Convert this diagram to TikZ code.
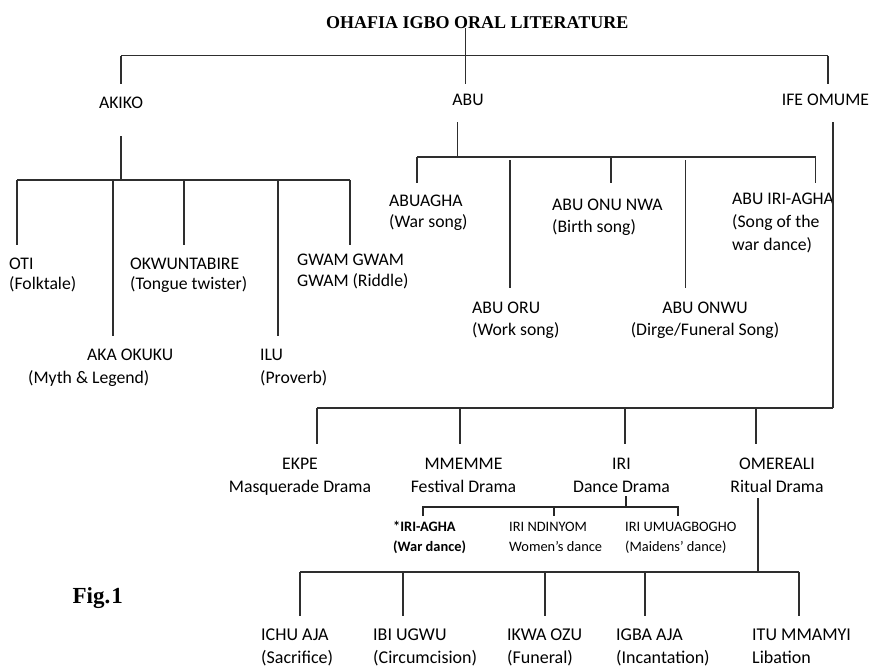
\documentclass[tikz,border=0pt]{standalone}
\usepackage{fontspec}
\setmainfont{Carlito}
\newfontfamily\serifbold{Liberation Serif}
\newcommand\mydrop[4]{\coordinate (#1a) at (#2,#3);\coordinate (#1b) at (#2,#4);\draw[lnk] (#1a) -- (#1b);}
\begin{document}
\begin{tikzpicture}[x=1pt,y=-1pt,
  lnk/.style={draw=black!82,line width=1.1pt},
  lnkb/.style={draw=black!85,line width=1.7pt},
  txt/.style={inner sep=0pt,font=\fontsize{17.7}{22}\selectfont,align=left,anchor=base west},
  btxt/.style={txt,font=\fontsize{18}{22}\selectfont},
  ctxt/.style={txt,align=center,anchor=base},
  small/.style={inner sep=0pt,font=\fontsize{14.4}{20}\selectfont,align=left,anchor=base west},
  ttl/.style={inner sep=0pt,font=\serifbold\bfseries\fontsize{18}{22}\selectfont,anchor=base west},
  fig/.style={inner sep=0pt,font=\serifbold\bfseries\fontsize{23}{28}\selectfont,anchor=base east}]
\useasboundingbox (0,0) rectangle (872,667);
% ---- text nodes (multi-line nodes are placed at the baseline of their last line) ----
\node[ttl] (title) at (326,28.3) {OHAFIA IGBO ORAL LITERATURE};
\node[ctxt] (akiko) at (121,108.3) {AKIKO};
\node[ctxt] (abu) at (468,105) {ABU};
\node[ctxt] (ife) at (825.5,105) {IFE OMUME};
% akiko children
\node[txt] (oti) at (9,289) {OTI\\[-2pt](Folktale)};
\node[txt] (okwu) at (130,289) {OKWUNTABIRE\\[-2pt](Tongue twister)};
\node[txt] (gwam) at (297,286) {GWAM GWAM\\[-1pt]GWAM (Riddle)};
\node[txt] (aka) at (28,383) {\hspace*{59pt}AKA OKUKU\\[1pt](Myth \& Legend)};
\node[txt] (ilu) at (260,383) {ILU\\[1pt](Proverb)};
% abu children
\node[txt] (abuagha) at (389,227) {ABUAGHA\\[-1pt](War song)};
\node[txt] (abuonu) at (552,232) {ABU ONU NWA\\(Birth song)};
\node[txt] (abuiri) at (732,250) {ABU IRI-AGHA\\[1pt](Song of the\\[1pt]war dance)};
\node[txt] (aburu) at (472,335) {ABU ORU\\(Work song)};
\node[ctxt] (abuonwu) at (705,335) {ABU ONWU\\(Dirge/Funeral Song)};
% drama
\node[ctxt] (ekpe) at (300,492) {EKPE\\[1pt]Masquerade Drama};
\node[ctxt] (mmemme) at (463.5,492) {MMEMME\\[1pt]Festival Drama};
\node[ctxt] (iri) at (621.5,492) {IRI\\[1pt]Dance Drama};
\node[ctxt] (omereali) at (777,492) {OMEREALI\\[1pt]Ritual Drama};
% iri sub
\node[small] (iriagha) at (393,551) {\textbf{*IRI-AGHA}\\\textbf{(War dance)}};
\node[small] (ndinyom) at (509,551) {IRI NDINYOM\\Women’s dance};
\node[small] (umuag) at (625,551) {IRI UMUAGBOGHO\\(Maidens’ dance)};
% ritual children
\node[btxt] (ichu) at (261,663) {ICHU AJA\\[1pt](Sacrifice)};
\node[btxt] (ibi) at (373,663) {IBI UGWU\\[1pt](Circumcision)};
\node[btxt] (ikwa) at (507,663) {IKWA OZU\\[1pt](Funeral)};
\node[btxt] (igba) at (616,663) {IGBA AJA\\[1pt](Incantation)};
\node[btxt] (itu) at (752,663) {ITU MMAMYI\\[1pt]Libation};
\node[fig] (fig) at (123,603) {Fig.\kern1pt1};
% ---- connectors ----
% root
\coordinate (rootbar) at (465.7,55.7);
\coordinate (rootend) at (465.7,84);
\draw[lnk] (title.base -| rootbar) -- (rootend);
\mydrop{akd}{121}{55.7}{84}
\mydrop{ifd}{828}{55.7}{84}
\draw[lnk] (akda) -- (ifda);
% akiko
\mydrop{aks}{121}{136}{180}
\mydrop{otd}{17}{180}{245}
\mydrop{akad}{113}{180}{336}
\mydrop{okd}{184}{180}{245}
\mydrop{ild}{278}{180}{336}
\mydrop{gwd}{350}{180}{245}
\draw[lnk] (otda) -- (gwda);
% abu
\mydrop{abs}{457.7}{122}{157}
\mydrop{agd}{417}{157}{183}
\mydrop{ord}{510}{160}{288}
\mydrop{ond}{611}{157}{183}
\mydrop{owd}{685.7}{160}{288}
\mydrop{ird}{815.7}{157}{183}
\draw[lnk] (agda) -- (irda);
% ife omume
\mydrop{ifs}{833}{122}{408}
\mydrop{ekd}{317}{408}{444}
\mydrop{mmd}{460}{408}{444}
\mydrop{rid}{625}{408}{444}
\mydrop{omd}{756}{408}{444}
\draw[lnk] (ekda) -- (ifsb);
% iri sub
\coordinate (irs-a) at (626,496);
\coordinate (irs-b) at (626,507);
\coordinate (sbl) at (423,507);
\coordinate (sbm) at (554,507);
\coordinate (sbr) at (678,507);
\coordinate (sbl2) at (423,516);
\coordinate (sbm2) at (554,516);
\coordinate (sbr2) at (678,516);
\draw[lnkb] (irs-a) -- (irs-b);
\draw[lnkb] (sbl2) -- (sbl) -- (sbr) -- (sbr2);
\draw[lnkb] (sbm) -- (sbm2);
% omereali
\mydrop{oms}{758}{498}{572}
\mydrop{icd}{300}{572}{616}
\mydrop{ibd}{403}{572}{616}
\mydrop{ikd}{545}{572}{616}
\mydrop{igd}{645}{572}{616}
\mydrop{itd}{799}{572}{616}
\draw[lnk] (icda) -- (itda);
\end{tikzpicture}
\end{document}
